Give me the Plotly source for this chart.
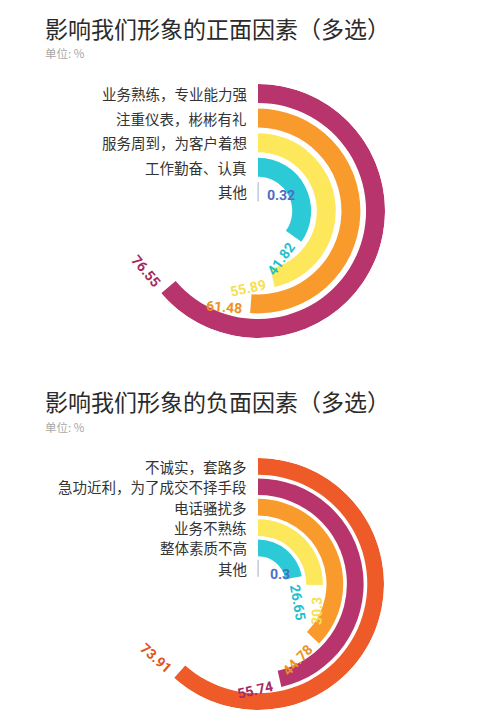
import math
import plotly.graph_objects as go

# ---- chart data ----
POS_TITLE = "影响我们形象的正面因素（多选）"
POS_LABELS = ["业务熟练，专业能力强", "注重仪表，彬彬有礼", "服务周到，为客户着想", "工作勤奋、认真", "其他"]
POS_VALUES = [76.55, 61.48, 55.89, 41.82, 0.32]

NEG_TITLE = "影响我们形象的负面因素（多选）"
NEG_LABELS = ["不诚实，套路多", "急功近利，为了成交不择手段", "电话骚扰多", "业务不熟练", "整体素质不高", "其他"]
NEG_VALUES = [73.91, 55.74, 44.78, 30.3, 26.65, 0.3]

UNIT_TEXT = "单位: %"
FULL_CIRCLE = 120  # value at which a ring would close

# ---- styles ----
W, H = 499, 728
PAD = 8                       # default body margin of the html page
FW, FH = W - 2 * PAD, H - 2 * PAD
CJK = "Noto Sans CJK SC"
NUM_FONT = "Roboto"

POS_COLORS = ["#B7346C", "#F89B2C", "#FDE75B", "#2CCAD6", "#C3C9DD"]
POS_TEXT_COLORS = ["#A52A62", "#EB9220", "#F6E050", "#1FC0CC", "#4C6DC9"]
NEG_COLORS = ["#EE5A28", "#B7346C", "#F89B2C", "#FDE75B", "#2CCAD6", "#C3C9DD"]
NEG_TEXT_COLORS = ["#E2521F", "#A52A62", "#EB9220", "#F6E050", "#1FC0CC", "#4C6DC9"]


def fx(px):
    """Window pixel x -> paper fraction."""
    return (px - PAD) / FW


def fy(px):
    """Window pixel y (from top) -> paper fraction."""
    return 1 - (px - PAD) / FH


def add_ring_chart(fig, idx, labels, values, colors, text_colors,
                   center, radius_px, hole, thick):
    """Draw one radial bar chart (rings start at 12 o'clock, clockwise)."""
    n = len(values)
    rmax = hole + (n - 1) + thick
    px_per_unit = radius_px / rmax
    cx, cy = center

    xd = [fx(cx - radius_px), fx(cx + radius_px)]
    yd = [fy(cy + radius_px), fy(cy - radius_px)]

    ring = [n - 1 - i for i in range(n)]  # first label = outermost ring
    base = [hole + k for k in ring]
    deg = [v * 360 / FULL_CIRCLE for v in values]

    polar = "polar" if idx == 1 else f"polar{idx}"
    fig.add_trace(go.Barpolar(
        r=[thick] * n,
        base=base,
        theta=[d / 2 for d in deg],
        width=deg,
        marker=dict(color=colors, line=dict(width=[0] * (n - 1) + [1], color=colors)),
        subplot=polar,
        hoverinfo="skip",
        showlegend=False,
    ))
    fig.update_layout(**{polar: dict(
        domain=dict(x=xd, y=yd),
        bgcolor="rgba(0,0,0,0)",
        angularaxis=dict(visible=False, rotation=90, direction="clockwise"),
        radialaxis=dict(visible=False, range=[0, rmax]),
    )})

    # overlay cartesian axes on the same square for the text
    xa, ya = f"x{idx}", f"y{idx}"
    fig.add_trace(go.Scatter(x=[], y=[], xaxis=xa, yaxis=ya,
                             showlegend=False, hoverinfo="skip"))
    fig.update_layout(**{
        f"xaxis{idx}": dict(domain=xd, range=[-rmax, rmax], visible=False,
                            anchor=ya, fixedrange=True),
        f"yaxis{idx}": dict(domain=yd, range=[-rmax, rmax], visible=False,
                            anchor=xa, fixedrange=True),
    })

    for i in range(n):
        # category label, left of the start line
        fig.add_annotation(
            x=0, y=base[i] + thick / 2, xref=xa, yref=ya,
            text=labels[i], showarrow=False, xanchor="right", yanchor="middle",
            xshift=-9, font=dict(family=CJK, size=14.5, color="#333333"),
        )
        # value label just past the end of the ring
        r_lab = base[i] + thick
        ang = deg[i] + math.degrees((27 / px_per_unit) / r_lab)
        tilt = deg[i] - 180
        if tilt < -90:
            tilt += 180
        fig.add_annotation(
            x=r_lab * math.sin(math.radians(ang)),
            y=r_lab * math.cos(math.radians(ang)),
            xref=xa, yref=ya, text=f"<b>{values[i]:g}</b>", showarrow=False,
            textangle=tilt, xanchor="center", yanchor="middle",
            font=dict(family=NUM_FONT, size=14, color=text_colors[i]),
        )


fig = go.Figure()

add_ring_chart(fig, 1, POS_LABELS, POS_VALUES, POS_COLORS, POS_TEXT_COLORS,
               center=(258, 211), radius_px=127, hole=0.39, thick=0.77)
add_ring_chart(fig, 2, NEG_LABELS, NEG_VALUES, NEG_COLORS, NEG_TEXT_COLORS,
               center=(258, 584), radius_px=126, hole=0.36, thick=0.82)

# titles and unit notes
for title, ty, uy in [(POS_TITLE, 28, 53), (NEG_TITLE, 401, 427)]:
    fig.add_annotation(x=fx(43), y=fy(ty), xref="paper", yref="paper",
                       text=title, showarrow=False, xanchor="left", yanchor="middle",
                       font=dict(family=CJK, size=23, color="#2b2b2b"))
    fig.add_annotation(x=fx(43), y=fy(uy), xref="paper", yref="paper",
                       text=UNIT_TEXT, showarrow=False, xanchor="left", yanchor="middle",
                       font=dict(family=CJK, size=11.5, color="#a8a8a8"))

fig.update_layout(
    width=FW,
    height=FH,
    margin=dict(l=0, r=0, t=0, b=0),
    paper_bgcolor="white",
    plot_bgcolor="rgba(0,0,0,0)",
    showlegend=False,
)

fig.write_html("out.html")
